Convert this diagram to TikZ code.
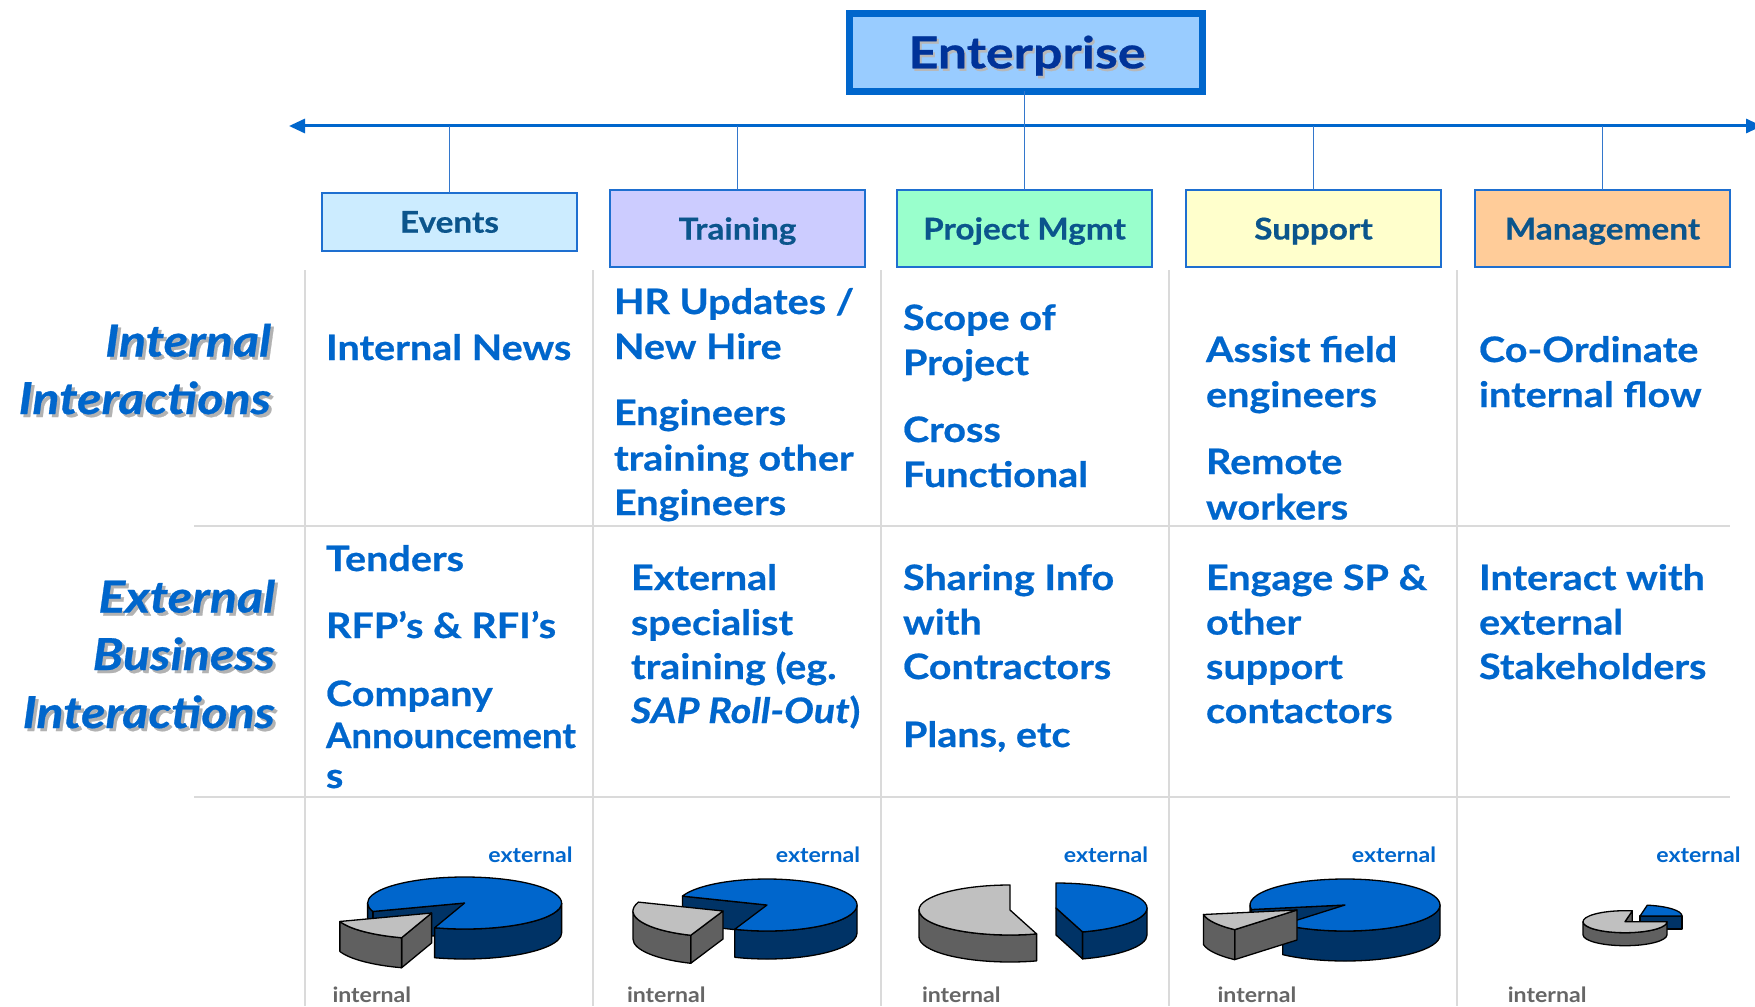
\documentclass[tikz,border=0pt]{standalone}
\usepackage{fontspec}
\setmainfont{Lato}
\newfontfamily\cellf{Lato}[FakeStretch=1.13,FakeBold=0.6]
\newfontfamily\rowf{Lato}[FakeStretch=1.14,FakeBold=0.6]
\newfontfamily\entf{Lato}[FakeStretch=1.18,FakeBold=0.6]
\newfontfamily\hdrf{Lato}[FakeStretch=1.11,FakeBold=0.5]
\newfontfamily\smallf{Lato}[FakeStretch=1.1]
\usetikzlibrary{arrows.meta}
\definecolor{cellblue}{HTML}{0066CC}
\definecolor{enttext}{HTML}{003399}
\definecolor{hdrtext}{HTML}{0B558C}
\definecolor{boxborder}{HTML}{1E6FD0}
\definecolor{entborder}{HTML}{0066CC}
\definecolor{entfill}{HTML}{99CCFF}
\definecolor{evfill}{HTML}{CCECFF}
\definecolor{trfill}{HTML}{CCCCFF}
\definecolor{pmfill}{HTML}{99FFCC}
\definecolor{spfill}{HTML}{FFFFCC}
\definecolor{mgfill}{HTML}{FFCC99}
\definecolor{gridgrey}{HTML}{DADADA}
\definecolor{busblue}{HTML}{0066CC}
\definecolor{connblue}{HTML}{3377CC}
\definecolor{pieblue}{HTML}{0066CC}
\definecolor{piebluedark}{HTML}{003366}
\definecolor{piegrey}{HTML}{C0C0C0}
\definecolor{piegreydark}{HTML}{606060}
\definecolor{intgrey}{HTML}{666666}
\newcommand\pieface[2]{\filldraw[pieline,fill=#2] (0,0) -- ({\prx*cos(#1)},{\pry*sin(#1)}) -- ++(0,-\pdep) -- (0,-\pdep) -- cycle;}
\newcommand\pieside[3]{\filldraw[pieline,fill=#3] ({\prx*cos(#1)},{\pry*sin(#1)}) arc[start angle=#1,end angle=#2,x radius=\prx,y radius=\pry] -- ++(0,-\pdep) arc[start angle=#2,end angle=#1,x radius=\prx,y radius=\pry] -- cycle;}
\newcommand\pietop[3]{\filldraw[pieline,fill=#3] (0,0) -- ({\prx*cos(#1)},{\pry*sin(#1)}) arc[start angle=#1,end angle=#2,x radius=\prx,y radius=\pry] -- cycle;}
\tikzset{
  every node/.style={inner sep=0pt,outer sep=0pt},
  cell/.style={anchor=base west,text=cellblue,font=\cellf\bfseries\fontsize{35}{40}\selectfont},
  rowlab/.style={anchor=base east,text=cellblue,font=\rowf\bfseries\itshape\fontsize{44}{50}\selectfont},
  rowsh/.style={rowlab,text=black!30},
  hdr/.style={draw=boxborder,line width=2,text=hdrtext,font=\hdrf\bfseries\fontsize{30}{36}\selectfont,
    minimum width=255,text height=24,text depth=2},
  entbox/.style={draw=entborder,fill=entfill,line width=7,minimum width=353,minimum height=78},
  enttxt/.style={anchor=base,text=enttext,font=\entf\bfseries\fontsize{44}{50}\selectfont},
  entsh/.style={enttxt,text=black!28},
  gridline/.style={draw=gridgrey,line width=2},
  bus/.style={draw=busblue,line width=3,{Triangle[length=16pt,width=14pt]}-{Triangle[length=16pt,width=14pt]}},
  conn/.style={draw=connblue,line width=1.6},
  pieline/.style={draw=black,line width=1.3,line join=round},
  extlab/.style={anchor=base east,text=cellblue,font=\smallf\bfseries\fontsize{21}{24}\selectfont},
  intlab/.style={anchor=base west,text=intgrey,font=\smallf\bfseries\fontsize{21}{24}\selectfont},
}
\begin{document}
\begin{tikzpicture}[x=1pt,y=-1pt]
\useasboundingbox (0,0) rectangle (1755,1006);
\fill[white] (0,0) rectangle (1755,1006);

% grid
\foreach \gx in {305,593,881,1169,1457} \draw[gridline] (\gx,270) -- (\gx,1006);
\draw[gridline] (194,525.5) -- (1730,525.5);
\draw[gridline] (194,796.7) -- (1730,796.7);

% enterprise
\node[entbox] (ent) at (1026,52.5) {};
\node[entsh] (entS) at (1029,70.8) {Enterprise};
\node[enttxt] (entT) at (1027,68.3) {Enterprise};

% category boxes
\node[hdr,fill=evfill,minimum height=58] (events) at (449.5,221.7) {Events};
\node[hdr,fill=trfill,minimum height=77] (training) at (737.5,228.5) {Training};
\node[hdr,fill=pmfill,minimum height=77] (pm) at (1024.5,228.5) {Project Mgmt};
\node[hdr,fill=spfill,minimum height=77] (support) at (1313.5,228.5) {Support};
\node[hdr,fill=mgfill,minimum height=77] (mgmt) at (1602.5,228.5) {Management};

% bus and connectors
\coordinate (busL) at (289,126);
\coordinate (busR) at (1762,126);
\draw[bus] (busL) -- (busR);
\draw[conn] (ent.south -| pm.north) -- (pm.north);
\draw[conn] (events.north) -- (events.north |- busL);
\draw[conn] (training.north) -- (training.north |- busL);
\draw[conn] (support.north) -- (support.north |- busL);
\draw[conn] (mgmt.north) -- (mgmt.north |- busL);

% row labels
\node[rowsh] (r1sa) at (274,359.5) {Internal};
\node[rowlab] (r1a) at (271,356.5) {Internal};
\node[rowsh] (r1sb) at (274,417) {Interactions};
\node[rowlab] (r1b) at (271,414) {Interactions};
\node[rowsh] (r2sa) at (278,615.5) {External};
\node[rowlab] (r2a) at (275,612.5) {External};
\node[rowsh] (r2sb) at (278,673) {Business};
\node[rowlab] (r2b) at (275,670) {Business};
\node[rowsh] (r2sc) at (278,731) {Interactions};
\node[rowlab] (r2c) at (275,728) {Interactions};

% events column
\node[cell] (ev1) at (326,360) {Internal News};
\node[cell] (ev2a) at (326,571) {Tenders};
\node[cell] (ev2b) at (326,638) {RFP’s \& RFI’s};
\node[cell] (ev2c) at (326,706) {Company};
\node[cell] (ev2d) at (326,748) {\scalebox{0.925}[1]{Announcement}};
\node[cell] (ev2e) at (326,788) {s};

% training column
\node[cell] (tr1a) at (614,314) {HR Updates /};
\node[cell] (tr1b) at (614,359) {New Hire};
\node[cell] (tr1c) at (614,425) {Engineers};
\node[cell] (tr1d) at (614,470.5) {training other};
\node[cell] (tr1e) at (614,515) {Engineers};
\node[cell] (tr2a) at (631,590) {External};
\node[cell] (tr2b) at (631,635) {specialist};
\node[cell] (tr2c) at (631,679) {training (eg.};
\node[cell] (tr2d) at (631,723) {\textit{SAP Roll-Out})};

% project mgmt column
\node[cell] (pm1a) at (903,330) {Scope of};
\node[cell] (pm1b) at (903,375) {Project};
\node[cell] (pm1c) at (903,442) {Cross};
\node[cell] (pm1d) at (903,487) {Functional};
\node[cell] (pm2a) at (903,590) {Sharing Info};
\node[cell] (pm2b) at (903,634.6) {with};
\node[cell] (pm2c) at (903,679) {Contractors};
\node[cell] (pm2d) at (903,747) {Plans, etc};

% support column
\node[cell] (sp1a) at (1206,362) {Assist field};
\node[cell] (sp1b) at (1206,407) {engineers};
\node[cell] (sp1c) at (1206,474) {Remote};
\node[cell] (sp1d) at (1206,519.5) {workers};
\node[cell] (sp2a) at (1206,590) {Engage SP \&};
\node[cell] (sp2b) at (1206,634.6) {other};
\node[cell] (sp2c) at (1206,679) {support};
\node[cell] (sp2d) at (1206,723) {contactors};

% management column
\node[cell] (mg1a) at (1479,362) {Co-Ordinate};
\node[cell] (mg1b) at (1479,407) {internal flow};
\node[cell] (mg2a) at (1479,590) {Interact with};
\node[cell] (mg2b) at (1479,634.6) {external};
\node[cell] (mg2c) at (1479,679) {Stakeholders};

% pie labels
\node[extlab] (ex1) at (572.5,862.7) {external};
\node[extlab] (ex2) at (860,862.7) {external};
\node[extlab] (ex3) at (1148,862.7) {external};
\node[extlab] (ex4) at (1436,862.7) {external};
\node[extlab] (ex5) at (1740.5,862.7) {external};
\node[intlab] (in1) at (332.5,1002.7) {internal};
\node[intlab] (in2) at (627,1002.7) {internal};
\node[intlab] (in3) at (922,1002.7) {internal};
\node[intlab] (in4) at (1217.6,1002.7) {internal};
\node[intlab] (in5) at (1507.8,1002.7) {internal};

% pie 1
\def\prx{97}\def\pry{26}\def\pdep{30}
\begin{scope}[shift={(464.6,903)},yscale=-1]
  \pieface{199}{piebluedark}
  \pieside{252}{360}{piebluedark}
  \pieside{180}{199}{piebluedark}
  \pietop{252}{559}{pieblue}
\end{scope}
\begin{scope}[shift={(431.6,913)},yscale=-1]
  \pieface{252}{piegreydark}
  \pieside{199}{252}{piegreydark}
  \pietop{199}{252}{piegrey}
\end{scope}

% pie 2
\def\prx{90}\def\pry{26}\def\pdep{28}
\begin{scope}[shift={(767,905)},yscale=-1]
  \pieface{160}{piebluedark}
  \pieside{249}{360}{piebluedark}
  \pietop{249}{520}{pieblue}
\end{scope}
\begin{scope}[shift={(723,911)},yscale=-1]
  \pieface{249}{piegreydark}
  \pieside{180}{249}{piegreydark}
  \pietop{160}{249}{piegrey}
\end{scope}

% pie 3
\def\prx{91}\def\pry{25}\def\pdep{27}
\begin{scope}[shift={(1010,910)},yscale=-1]
  \pieside{180}{287}{piegreydark}
  \pietop{90}{287}{piegrey}
\end{scope}
\begin{scope}[shift={(1056,908)},yscale=-1]
  \pieface{287}{piebluedark}
  \pieside{287}{360}{piebluedark}
  \pietop{287}{450}{pieblue}
\end{scope}

% pie 4
\def\prx{95}\def\pry{26}\def\pdep{30}
\begin{scope}[shift={(1345,905)},yscale=-1]
  \pieface{190}{piebluedark}
  \pieside{229}{360}{piebluedark}
  \pieside{180}{190}{piebluedark}
  \pietop{229}{550}{pieblue}
\end{scope}
\begin{scope}[shift={(1297,910)},yscale=-1]
  \pieface{229}{piegreydark}
  \pieside{190}{229}{piegreydark}
  \pietop{190}{229}{piegrey}
\end{scope}

% pie 5
\def\prx{42}\def\pry{11}\def\pdep{13}
\begin{scope}[shift={(1640,916)},yscale=-1]
  \pieface{0}{piebluedark}
  \pietop{0}{80}{pieblue}
\end{scope}
\begin{scope}[shift={(1625,921.7)},yscale=-1]
  \pieface{80}{piegreydark}
  \pieside{180}{360}{piegreydark}
  \pietop{80}{360}{piegrey}
\end{scope}
\end{tikzpicture}
\end{document}
